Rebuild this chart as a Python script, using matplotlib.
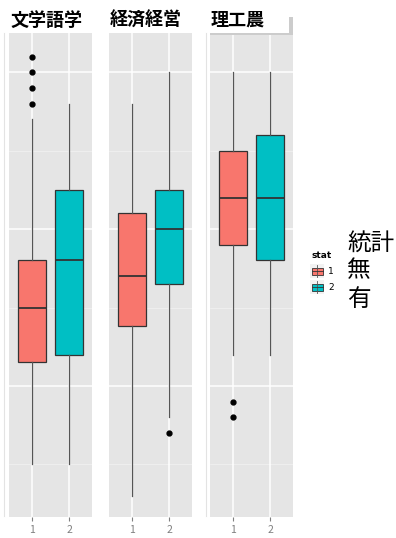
import numpy as np
import matplotlib.pyplot as plt
from matplotlib.lines import Line2D
from matplotlib.patches import Rectangle

plt.rcParams['font.family'] = ['Noto Sans CJK JP', 'DejaVu Sans']

# data
facets = ['文学語学', '経済経営', '理工農']
stat_levels = ['1', '2']
colors = ['#F8766D', '#00BFC4']
# (whislo, q1, med, q3, whishi) for stat 1 and 2
box_1 = [[10, 23, 30, 36, 54], [10, 24, 36, 45, 56]]
box_2 = [[6, 27.6, 34, 42, 56], [16, 33, 40, 45, 60]]
box_3 = [[24, 38, 44, 50, 60], [24, 36, 44, 52, 60]]
fliers_1 = [[56, 58, 60, 62], []]
fliers_2 = [[], [14]]
fliers_3 = [[16, 18], []]
boxes = [box_1, box_2, box_3]
fliers = [fliers_1, fliers_2, fliers_3]

W, H = 396, 538
fig = plt.figure(figsize=(W / 100, H / 100), dpi=100)

def fx(px):
    return px / W

def fy(py):
    return 1 - py / H

panel_x = [9, 109, 210]
pw = 83
top, bot = 33, 517

for i, name in enumerate(facets):
    ax = fig.add_axes([fx(panel_x[i]), fy(bot), fx(pw), (bot - top) / H])
    ax.set_facecolor('#E5E5E5')
    for s in ax.spines.values():
        s.set_visible(False)
    ax.set_xlim(0.38, 2.62)
    ax.set_ylim(3.3, 65)
    for v in [20, 40, 60]:
        ax.axhline(v, color='white', lw=1.1, zorder=0)
    for v in [10, 30, 50]:
        ax.axhline(v, color='#F2F2F2', lw=0.5, zorder=0)
    for v in [1, 2]:
        ax.axvline(v, color='white', lw=1.1, zorder=0)
    stats = []
    for j in range(2):
        lo, q1, med, q3, hi = boxes[i][j]
        stats.append(dict(whislo=lo, q1=q1, med=med, q3=q3, whishi=hi,
                          fliers=fliers[i][j]))
    bp = ax.bxp(stats, positions=[1, 2], widths=0.75, patch_artist=True,
                showcaps=False,
                boxprops=dict(edgecolor='#333333', linewidth=0.9),
                medianprops=dict(color='#333333', linewidth=1.3),
                whiskerprops=dict(color='#555555', linewidth=0.9),
                flierprops=dict(marker='o', markerfacecolor='black',
                                markeredgecolor='black', markersize=3.5))
    for patch, c in zip(bp['boxes'], colors):
        patch.set_facecolor(c)
    ax.set_xticks([1, 2])
    ax.set_xticklabels(stat_levels)
    ax.set_yticks([])
    ax.tick_params(axis='x', length=3, color='#7F7F7F', labelcolor='#7F7F7F',
                   labelsize=7.5, pad=3)
    fig.text(fx(panel_x[i] + 1), fy(20), name, fontsize=13, fontweight='bold',
             ha='left', va='center')

# stray edges around the panels
fig.add_artist(Line2D([fx(4), fx(4)], [fy(33), fy(516)], color='#E3E3E3', lw=0.8))
fig.add_artist(Line2D([fx(206), fx(206)], [fy(33), fy(516)], color='#E3E3E3', lw=0.8))
fig.add_artist(Rectangle((fx(210), fy(35)), fx(83), 2 / H, color='#CCCCCC', lw=0))
fig.add_artist(Rectangle((fx(289), fy(33)), fx(4), 16 / H, color='#CCCCCC', lw=0))

# legend
fig.text(fx(312), fy(256), 'stat', fontsize=6.5, fontweight='bold',
         ha='left', va='center', family='DejaVu Sans')
for k, (lab, c) in enumerate(zip(stat_levels, colors)):
    yc = 271 + k * 16
    fig.add_artist(Rectangle((fx(310), fy(yc + 7)), fx(14), 14 / H,
                             color='#F2F2F2', lw=0))
    fig.add_artist(Line2D([fx(317), fx(317)], [fy(yc + 6), fy(yc - 6)],
                          color='#555555', lw=0.6))
    fig.add_artist(Rectangle((fx(311.5), fy(yc + 3.5)), fx(11), 7 / H,
                             facecolor=c, edgecolor='#333333', lw=0.6))
    fig.add_artist(Line2D([fx(311.5), fx(322.5)], [fy(yc), fy(yc)],
                          color='#333333', lw=0.6))
    fig.text(fx(328), fy(yc), lab, fontsize=6.5, ha='left', va='center',
             family='DejaVu Sans')

fig.text(fx(347), fy(243), '統計', fontsize=17, ha='left', va='center')
fig.text(fx(347), fy(271), '無', fontsize=17, ha='left', va='center')
fig.text(fx(347), fy(299), '有', fontsize=17, ha='left', va='center')

fig.savefig('out.png', dpi=100)
